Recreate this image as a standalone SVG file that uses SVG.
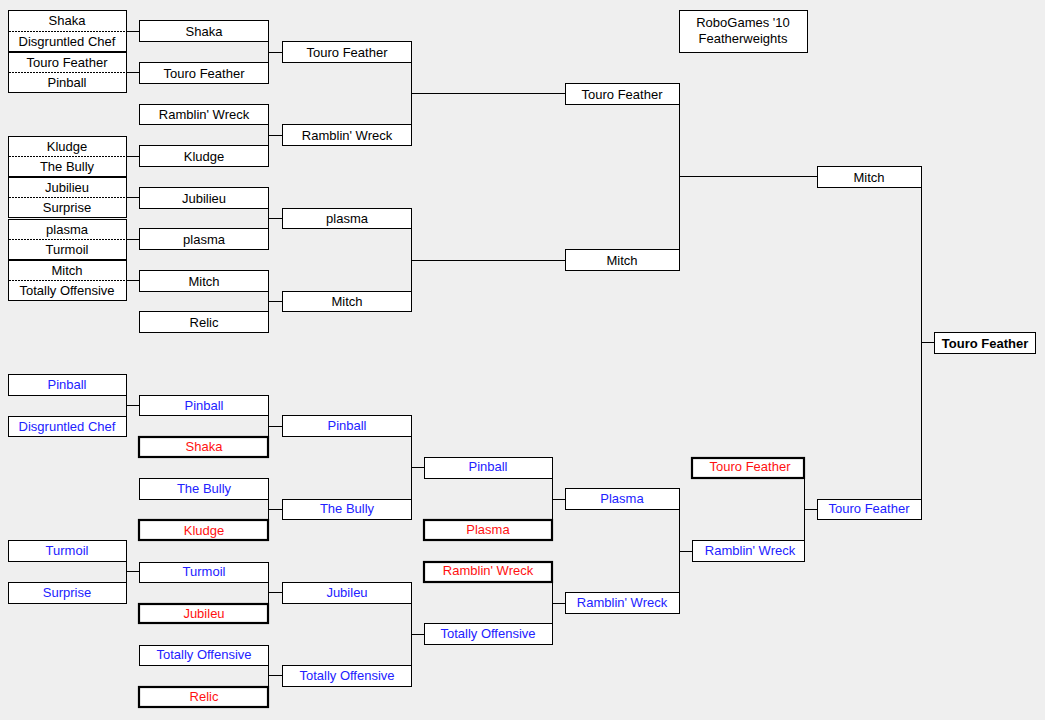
<svg xmlns="http://www.w3.org/2000/svg" width="1045" height="720" viewBox="0 0 1045 720">
<style>
.bx{fill:#fff;stroke:#000;stroke-width:1}
.bd{fill:#fff;stroke:#000;stroke-width:2.2}
.ds{stroke:#000;stroke-width:1;stroke-dasharray:2,1}
text{font-family:"Liberation Sans",Arial,sans-serif;font-size:13px;text-anchor:middle}
.k{fill:#000}
.b{fill:#2222ff}
.r{fill:#ff1111}
.w{font-weight:bold}
#con path{fill:none;stroke:#000;stroke-width:1}
</style>
<rect x="0" y="0" width="1045" height="720" fill="#efefef"/>
<g id="con">
<path d="M126,31.5H139M126,72.5H139M126,156.5H139M126,197.5H139M126,239.5H139M126,280.5H139"/>
<path d="M268.5,41V62M268,52.5H282M268.5,125V145M268,135.5H282M268.5,208V228M268,218.5H282M268.5,291V311M268,301.5H282"/>
<path d="M411.5,62V124M411,93.5H565M411.5,229V291M411,260.5H565"/>
<path d="M679.5,104V249M679,176.5H817"/>
<path d="M921.5,187V499M921,342.5H934"/>
<path d="M126.5,395V416M126,405.5H139M126.5,561V582M126,571.5H139"/>
<path d="M268.5,415V436M268,426.5H282M268.5,499V519M268,509.5H282M268.5,582V603M268,592.5H282M268.5,665V686M268,675.5H282"/>
<path d="M411.5,436V499M411,467.5H424M411.5,603V665M411,634.5H424"/>
<path d="M552.5,478V519M552,499.5H565M552.5,582V623M552,603.5H565"/>
<path d="M679.5,509V592M679,551.5H692"/>
<path d="M804.5,478V540M804,509.5H817"/>
</g>
<g id="title"><rect class="bx" x="679.5" y="10.5" width="128" height="42"/><text class="k" x="743" y="27">RoboGames '10</text><text class="k" x="743" y="43">Featherweights</text></g>
<g id="q1"><rect class="bx" x="8.5" y="10.5" width="118" height="41"/><line class="ds" x1="9" y1="31.5" x2="126" y2="31.5"/><text class="k" x="67" y="25">Shaka</text><text class="k" x="67" y="46">Disgruntled Chef</text></g>
<g id="q2"><rect class="bx" x="8.5" y="52.5" width="118" height="40"/><line class="ds" x1="9" y1="72.5" x2="126" y2="72.5"/><text class="k" x="67" y="67">Touro Feather</text><text class="k" x="67" y="87">Pinball</text></g>
<g id="q3"><rect class="bx" x="8.5" y="136.5" width="118" height="40"/><line class="ds" x1="9" y1="156.5" x2="126" y2="156.5"/><text class="k" x="67" y="151">Kludge</text><text class="k" x="67" y="171">The Bully</text></g>
<g id="q4"><rect class="bx" x="8.5" y="177.5" width="118" height="40"/><line class="ds" x1="9" y1="197.5" x2="126" y2="197.5"/><text class="k" x="67" y="192">Jubilieu</text><text class="k" x="67" y="212">Surprise</text></g>
<g id="q5"><rect class="bx" x="8.5" y="219.5" width="118" height="40"/><line class="ds" x1="9" y1="239.5" x2="126" y2="239.5"/><text class="k" x="67" y="234">plasma</text><text class="k" x="67" y="254">Turmoil</text></g>
<g id="q6"><rect class="bx" x="8.5" y="260.5" width="118" height="40"/><line class="ds" x1="9" y1="280.5" x2="126" y2="280.5"/><text class="k" x="67" y="275">Mitch</text><text class="k" x="67" y="295">Totally Offensive</text></g>
<g id="w2a"><rect class="bx" x="139.5" y="20.5" width="129" height="21"/><text class="k" x="204" y="36">Shaka</text></g>
<g id="w2b"><rect class="bx" x="139.5" y="62.5" width="129" height="21"/><text class="k" x="204" y="78">Touro Feather</text></g>
<g id="w2c"><rect class="bx" x="139.5" y="104.5" width="129" height="20"/><text class="k" x="204" y="119">Ramblin' Wreck</text></g>
<g id="w2d"><rect class="bx" x="139.5" y="145.5" width="129" height="21"/><text class="k" x="204" y="161">Kludge</text></g>
<g id="w2e"><rect class="bx" x="139.5" y="187.5" width="129" height="21"/><text class="k" x="204" y="203">Jubilieu</text></g>
<g id="w2f"><rect class="bx" x="139.5" y="228.5" width="129" height="21"/><text class="k" x="204" y="244">plasma</text></g>
<g id="w2g"><rect class="bx" x="139.5" y="270.5" width="129" height="21"/><text class="k" x="204" y="286">Mitch</text></g>
<g id="w2h"><rect class="bx" x="139.5" y="311.5" width="129" height="21"/><text class="k" x="204" y="327">Relic</text></g>
<g id="w3a"><rect class="bx" x="282.5" y="41.5" width="129" height="21"/><text class="k" x="347" y="57">Touro Feather</text></g>
<g id="w3b"><rect class="bx" x="282.5" y="124.5" width="129" height="21"/><text class="k" x="347" y="140">Ramblin' Wreck</text></g>
<g id="w3c"><rect class="bx" x="282.5" y="208.5" width="129" height="20"/><text class="k" x="347" y="223">plasma</text></g>
<g id="w3d"><rect class="bx" x="282.5" y="291.5" width="129" height="20"/><text class="k" x="347" y="306">Mitch</text></g>
<g id="w4a"><rect class="bx" x="565.5" y="83.5" width="114" height="21"/><text class="k" x="622" y="99">Touro Feather</text></g>
<g id="w4b"><rect class="bx" x="565.5" y="249.5" width="114" height="21"/><text class="k" x="622" y="265">Mitch</text></g>
<g id="w5"><rect class="bx" x="817.5" y="166.5" width="104" height="21"/><text class="k" x="869" y="182">Mitch</text></g>
<g id="final"><rect class="bx" x="934.5" y="332.5" width="101" height="21"/><text class="k w" x="985" y="348">Touro Feather</text></g>
<g id="l1a"><rect class="bx" x="8.5" y="374.5" width="118" height="21"/><text class="b" x="67" y="389">Pinball</text></g>
<g id="l1b"><rect class="bx" x="8.5" y="416.5" width="118" height="20"/><text class="b" x="67" y="431">Disgruntled Chef</text></g>
<g id="l1c"><rect class="bx" x="8.5" y="540.5" width="118" height="21"/><text class="b" x="67" y="555">Turmoil</text></g>
<g id="l1d"><rect class="bx" x="8.5" y="582.5" width="118" height="21"/><text class="b" x="67" y="597">Surprise</text></g>
<g id="l2a"><rect class="bx" x="139.5" y="395.5" width="129" height="20"/><text class="b" x="204" y="410">Pinball</text></g>
<g id="l2b"><rect class="bd" x="139" y="437" width="129" height="20"/><text class="r" x="204" y="451">Shaka</text></g>
<g id="l2c"><rect class="bx" x="139.5" y="478.5" width="129" height="21"/><text class="b" x="204" y="493">The Bully</text></g>
<g id="l2d"><rect class="bd" x="139" y="520" width="129" height="20"/><text class="r" x="204" y="535">Kludge</text></g>
<g id="l2e"><rect class="bx" x="139.5" y="562.5" width="129" height="20"/><text class="b" x="204" y="576">Turmoil</text></g>
<g id="l2f"><rect class="bd" x="139" y="604" width="129" height="19"/><text class="r" x="204" y="618">Jubileu</text></g>
<g id="l2g"><rect class="bx" x="139.5" y="645.5" width="129" height="20"/><text class="b" x="204" y="659">Totally Offensive</text></g>
<g id="l2h"><rect class="bd" x="139" y="687" width="129" height="20"/><text class="r" x="204" y="701">Relic</text></g>
<g id="l3a"><rect class="bx" x="282.5" y="415.5" width="129" height="21"/><text class="b" x="347" y="430">Pinball</text></g>
<g id="l3b"><rect class="bx" x="282.5" y="499.5" width="129" height="20"/><text class="b" x="347" y="513">The Bully</text></g>
<g id="l3c"><rect class="bx" x="282.5" y="582.5" width="129" height="21"/><text class="b" x="347" y="597">Jubileu</text></g>
<g id="l3d"><rect class="bx" x="282.5" y="665.5" width="129" height="21"/><text class="b" x="347" y="680">Totally Offensive</text></g>
<g id="l4a"><rect class="bx" x="424.5" y="457.5" width="128" height="21"/><text class="b" x="488" y="471">Pinball</text></g>
<g id="l4b"><rect class="bd" x="424" y="520" width="128" height="20"/><text class="r" x="488" y="534">Plasma</text></g>
<g id="l4c"><rect class="bd" x="424" y="562" width="128" height="20"/><text class="r" x="488" y="575">Ramblin' Wreck</text></g>
<g id="l4d"><rect class="bx" x="424.5" y="623.5" width="128" height="21"/><text class="b" x="488" y="638">Totally Offensive</text></g>
<g id="l5a"><rect class="bx" x="565.5" y="488.5" width="114" height="21"/><text class="b" x="622" y="503">Plasma</text></g>
<g id="l5b"><rect class="bx" x="565.5" y="592.5" width="114" height="21"/><text class="b" x="622" y="607">Ramblin' Wreck</text></g>
<g id="l6a"><rect class="bd" x="692" y="458" width="112" height="20"/><text class="r" x="750" y="471">Touro Feather</text></g>
<g id="l6b"><rect class="bx" x="692.5" y="540.5" width="112" height="21"/><text class="b" x="750" y="555">Ramblin' Wreck</text></g>
<g id="l7"><rect class="bx" x="817.5" y="499.5" width="104" height="20"/><text class="b" x="869" y="513">Touro Feather</text></g>
</svg>
